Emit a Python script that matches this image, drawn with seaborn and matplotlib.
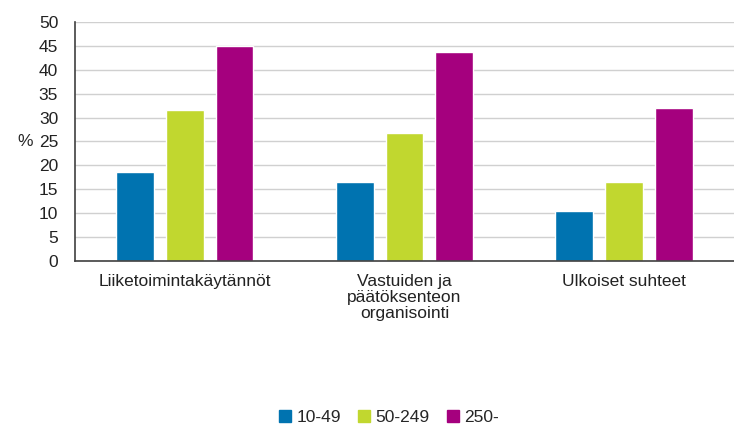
import matplotlib
matplotlib.use("Agg")
from matplotlib import pyplot as plt
import seaborn as sns
import pandas as pd

categories = ["Liiketoimintakäytännöt", "Vastuiden ja\npäätöksenteon\norganisointi", "Ulkoiset suhteet"]
sizes = ["10-49", "50-249", "250-"]
v_small = [18.6, 16.5, 10.5]
v_mid = [31.6, 26.8, 16.5]
v_large = [45.0, 43.7, 32.0]
colors = ["#0073B0", "#C1D72F", "#A5007E"]

rows = []
for s, vals in zip(sizes, [v_small, v_mid, v_large]):
    for c, v in zip(categories, vals):
        rows.append({"cat": c, "size": s, "value": v})
df = pd.DataFrame(rows)

sns.set_style("white")
plt.rcParams["font.family"] = ["Liberation Sans", "DejaVu Sans"]

fig = plt.figure(figsize=(7.34, 4.36), dpi=100)
ax = fig.add_axes([0.102, 0.401, 0.898, 0.549])

sns.barplot(data=df, x="cat", y="value", hue="size", palette=colors,
            width=0.68, gap=0.24, saturation=1, ax=ax, legend=False)

fs = 12.5
ax.set_ylim(0, 50)
ax.set_xlim(-0.5, 2.5)
ax.set_yticks(range(0, 51, 5))
ax.yaxis.grid(True, color="#d0d0d0", linewidth=1)
ax.set_axisbelow(True)
ax.tick_params(axis="both", length=0, labelsize=fs, colors="#222222")
ax.tick_params(axis="y", pad=12)
ax.tick_params(axis="x", pad=9)
for lab in ax.get_xticklabels():
    lab.set_linespacing(1.1)
ax.set_xlabel("")
ax.set_ylabel("%", rotation=0, fontsize=fs, labelpad=10, va="center")
for side in ["top", "right"]:
    ax.spines[side].set_visible(False)
for side in ["left", "bottom"]:
    ax.spines[side].set_color("#404040")
    ax.spines[side].set_linewidth(1.2)

handles = [plt.Rectangle((0, 0), 1, 1, color=c) for c in colors]
fig.legend(handles, sizes, loc="lower center", bbox_to_anchor=(0.53, -0.01),
           ncol=3, frameon=False, fontsize=fs, handlelength=0.7, handleheight=0.7,
           handletextpad=0.3, columnspacing=1.0)

fig.savefig("out.png", dpi=100)
